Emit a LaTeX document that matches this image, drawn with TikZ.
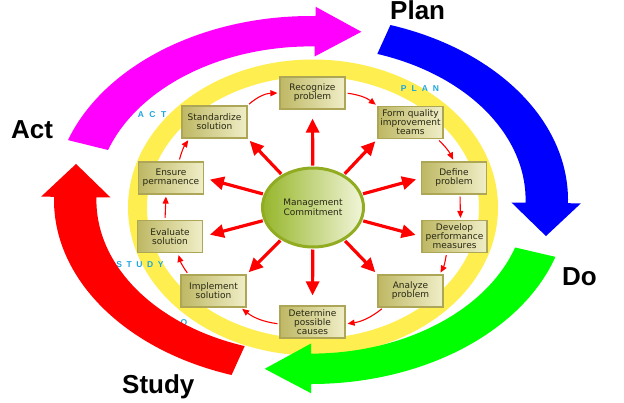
\documentclass[tikz,border=0pt]{standalone}
\usepackage{fontspec}
\setmainfont{DejaVu Sans}
\newfontfamily\labelfont{Liberation Sans}
\usetikzlibrary{arrows.meta,shapes.geometric}
\definecolor{ringyellow}{RGB}{255,238,80}
\definecolor{boxdark}{RGB}{190,184,100}
\definecolor{boxlight}{RGB}{240,238,200}
\definecolor{boxedge}{RGB}{172,166,86}
\definecolor{mcdark}{RGB}{150,182,42}
\definecolor{mclight}{RGB}{242,245,218}
\definecolor{mcedge}{RGB}{146,172,34}
\definecolor{lettercyan}{RGB}{30,165,220}
\definecolor{textdark}{RGB}{40,40,20}
\definecolor{pdcamagenta}{RGB}{255,0,255}
\definecolor{pdcablue}{RGB}{0,0,255}
\definecolor{pdcagreen}{RGB}{0,255,0}
\definecolor{pdcared}{RGB}{255,0,0}
\newcommand{\pdcaarrow}[3]{%
\fill[#1] ({311+257*cos(#2)},{200-184*sin(#2)})
 arc[start angle=#2, end angle=#3, x radius=257pt, y radius=184pt]
 -- ({311+269.9*cos(#3)},{200-193.2*sin(#3)})
 -- ({311+257*(0.9175*cos(#3)+0.18*sin(#3))},{200-184*(0.9175*sin(#3)-0.18*cos(#3))})
 -- ({311+200.5*cos(#3)},{200-143.5*sin(#3)})
 -- ({311+214.6*cos(#3)},{200-153.6*sin(#3)})
 arc[start angle=#3, end angle=#2, x radius=214.6pt, y radius=153.6pt]
 -- cycle;}
\begin{document}
\begin{tikzpicture}[x=1pt,y=-1pt,
  box/.style={rectangle, minimum width=65pt, minimum height=32pt, inner sep=1pt,
    left color=boxdark, right color=boxlight, draw=boxedge, line width=1.2pt,
    align=center, font=\fontsize{9}{9}\selectfont, text=textdark},
  spoke/.style={draw=pdcared, line width=3.2pt, -{Triangle[length=14pt,width=13pt]}, shorten <=1pt},
  cyc/.style={draw=pdcared, line width=1.1pt, -{Triangle[length=7pt,width=6pt]}, shorten <=2pt, shorten >=2pt},
  letters/.style={font=\labelfont\bfseries\fontsize{8.5}{9}\selectfont, text=lettercyan, inner sep=0pt},
  biglabel/.style={font=\labelfont\bfseries\fontsize{26}{26}\selectfont, inner sep=0pt, anchor=base west}]
\useasboundingbox (0,0) rectangle (624,402);
\fill[white] (0,0) rectangle (624,402);
% yellow ring
\fill[ringyellow, even odd rule] (313,207.5) ellipse[x radius=185pt, y radius=148pt]
  (313,207.5) ellipse[x radius=166pt, y radius=131pt];
% ring letters
\node[letters] (plan) at (420,89) {P\hspace{5pt}L\hspace{5pt}A\hspace{5pt}N};
\node[letters] (act) at (152,115) {A\hspace{5.5pt}C\hspace{5.5pt}T};
\node[letters] (study) at (140,265) {S\hspace{4.6pt}T\hspace{4.6pt}U\hspace{4.6pt}D\hspace{4.6pt}Y};
\node[letters] (o) at (184,323) {O};
% boxes
\node[box] (rec) at (312.5,93) {Recognize\\problem};
\node[box] (form) at (410.5,122.5) {Form quality\\improvement\\teams};
\node[box] (def) at (454,178) {Define\\problem};
\node[box] (dev) at (454.5,236.5) {Develop\\performance\\measures};
\node[box] (ana) at (410.5,291) {Analyze\\problem};
\node[box] (det) at (312.5,322) {Determine\\possible\\causes};
\node[box] (imp) at (213.5,291) {Implement\\solution};
\node[box] (eval) at (170,236.5) {Evaluate\\solution};
\node[box] (ens) at (171,178) {Ensure\\permanence};
\node[box] (std) at (214.5,122) {Standardize\\solution};
% center
\node[ellipse, minimum width=101pt, minimum height=79pt, inner sep=0pt,
  left color=mcdark, right color=mclight, draw=mcedge, line width=3pt,
  align=center, font=\fontsize{9}{10}\selectfont, text=textdark] (mc) at (313,207.5) {Management\\Commitment};
% spokes
\draw[spoke, shorten >=9pt] (mc) -- (rec.south);
\draw[spoke, shorten >=3pt] (mc) -- (form.south west);
\draw[spoke, shorten >=5pt] (mc) -- (def.west);
\draw[spoke, shorten >=6pt] (mc) -- (dev.west);
\draw[spoke, shorten >=3pt] (mc) -- (ana.north west);
\draw[spoke, shorten >=10pt] (mc) -- (det.north);
\draw[spoke, shorten >=3pt] (mc) -- (imp.north east);
\draw[spoke, shorten >=7pt] (mc) -- (eval.east);
\draw[spoke, shorten >=6pt] (mc) -- (ens.east);
\draw[spoke, shorten >=3pt] (mc) -- (std.south east);
% cycle arrows
\draw[cyc] (std.north east) to[bend left=20] (rec.west);
\draw[cyc] (rec.east) to[bend left=15] (form.north west);
\draw[cyc] ([xshift=-6pt]form.south east) to[bend left=10] (def.north);
\draw[cyc] ([xshift=6pt]def.south) -- ([xshift=6pt]dev.north);
\draw[cyc] ([xshift=-8pt]dev.south) to[bend left=10] ([xshift=-4pt]ana.north east);
\draw[cyc] ([xshift=6pt]ana.south west) to[bend left=15] ([yshift=-2pt]det.east);
\draw[cyc] ([yshift=-2pt]det.west) to[bend left=15] ([xshift=-6pt]imp.south east);
\draw[cyc] ([xshift=8pt]imp.north west) to[bend left=10] ([xshift=8pt]eval.south);
\draw[cyc] ([xshift=-5pt]eval.north) -- ([xshift=-5pt]ens.south);
\draw[cyc] ([xshift=8pt]ens.north) to[bend left=10] ([xshift=8pt]std.south west);
% big arrows
\pdcaarrow{pdcamagenta}{161}{89}
\pdcaarrow{pdcablue}{72}{-1}
\pdcaarrow{pdcagreen}{-18}{-90}
\pdcaarrow{pdcared}{-108}{-181}
% big labels
\node[biglabel] (lplan) at (390,19) {Plan};
\node[biglabel] (lact) at (11,138) {Act};
\node[biglabel] (ldo) at (562,285) {Do};
\node[biglabel] (lstudy) at (122,393) {Study};
\end{tikzpicture}
\end{document}
